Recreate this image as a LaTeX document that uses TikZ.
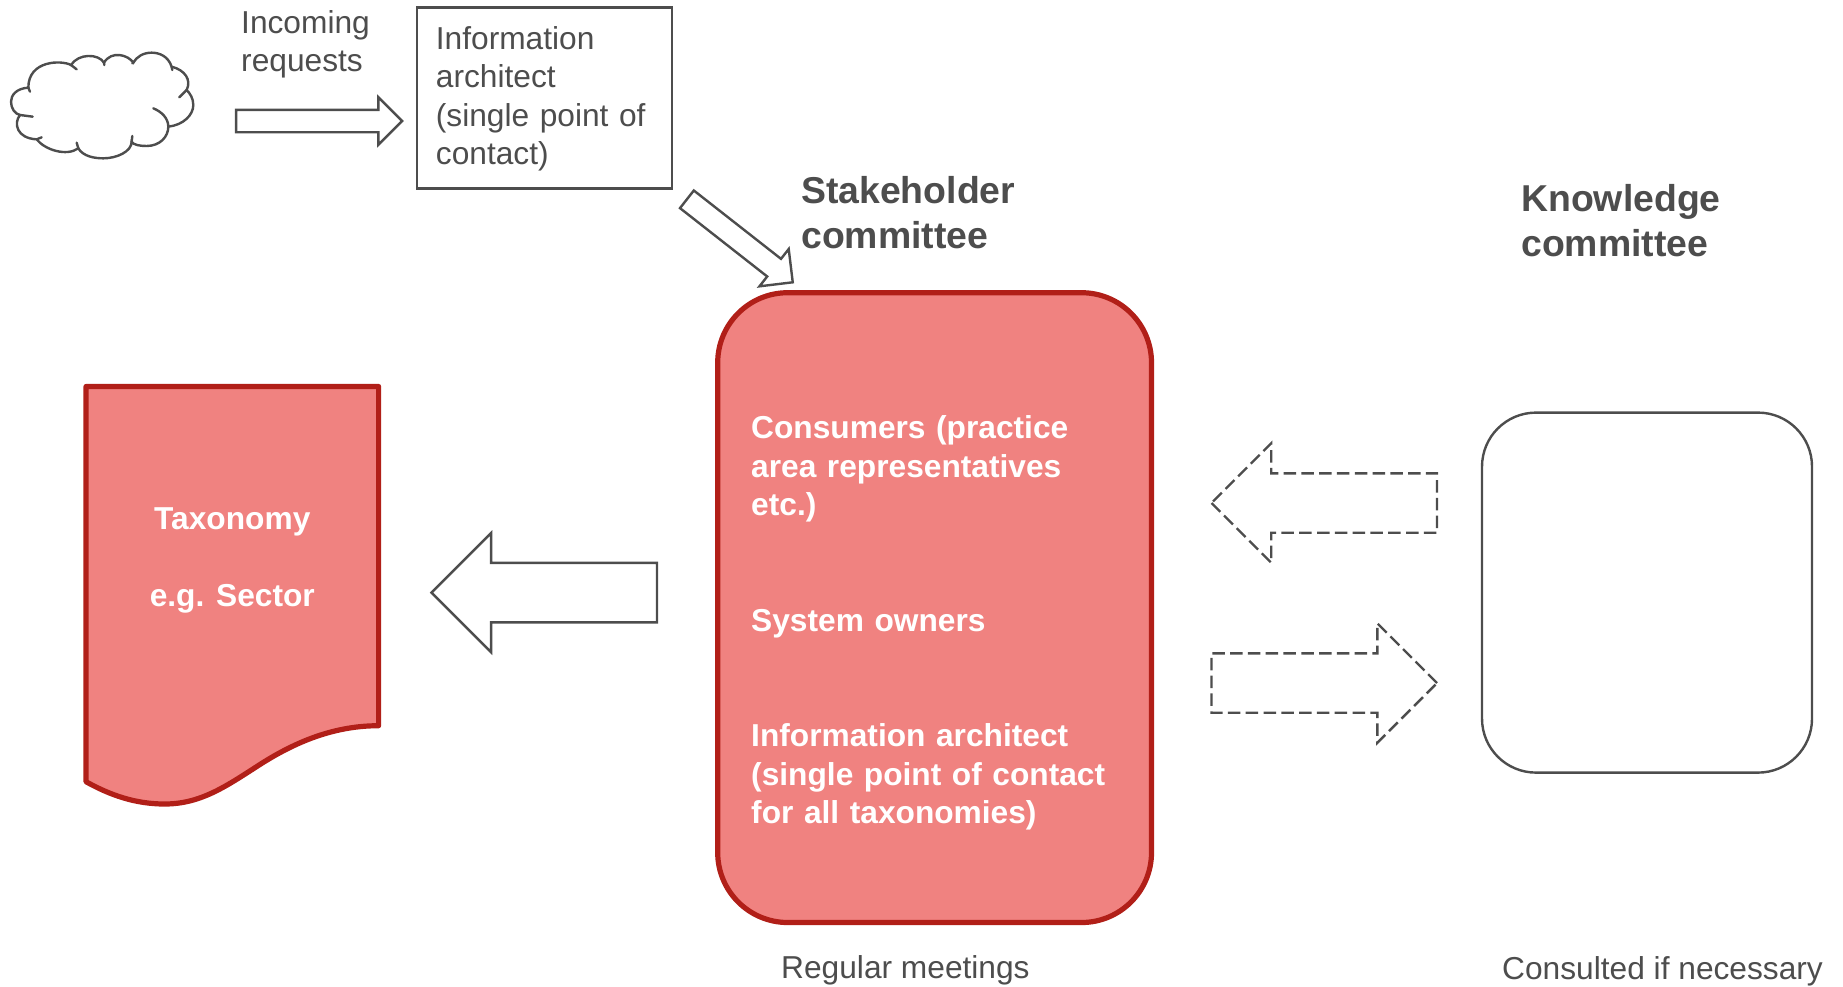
\documentclass[tikz,border=0pt]{standalone}
\usepackage{fontspec}
\setmainfont{Liberation Sans}
\usepackage{tikz}
\usetikzlibrary{positioning}
\usetikzlibrary{shapes.arrows}

\definecolor{inkgray}{HTML}{4D4D4D}
\definecolor{redfill}{HTML}{F08280}
\definecolor{redline}{HTML}{B11F18}

\begin{document}
\begin{tikzpicture}[
    x=1pt,
    y=-1pt,
    plaintext/.style={
        text=inkgray,
        inner sep=0pt,
        align=left,
        font=\fontsize{31.7}{38.5}\selectfont,
    },
    headtext/.style={
        text=inkgray,
        inner sep=0pt,
        align=left,
        font=\fontsize{37.4}{45}\selectfont\bfseries,
    },
    whitetext/.style={
        text=white,
        inner sep=0pt,
        font=\fontsize{31.7}{38.5}\selectfont\bfseries,
    },
    redshape/.style={
        draw=redline,
        fill=redfill,
        line width=5.2pt,
    },
    committee/.style={
        rounded corners=#1,
        outer sep=0pt,
    },
    blockarrow/.style={
        draw=inkgray,
        line width=2.4pt,
        single arrow,
        single arrow tip angle=90,
        inner xsep=0pt,
        outer sep=0pt,
    },
    smallarrow/.style={
        blockarrow,
        inner ysep=10pt,
        single arrow head extend=12.5pt,
    },
    bigarrow/.style={
        blockarrow,
        inner ysep=28.5pt,
        single arrow head extend=30pt,
        minimum height=225.5pt,
    },
    sketchline/.style={
        draw=inkgray,
        line width=2.4pt,
    },
    dashline/.style={
        dash pattern=on 12.5pt off 5.3pt,
    }
]

\useasboundingbox (0,0) rectangle (1843,986);

\begin{scope}[shift={(0,40)},x=0.3333pt,y=-0.3333pt]
\draw[sketchline, line cap=round] (85,143) .. controls (50,145) and (33,165) .. (33,185)
    .. controls (33,205) and (45,222) .. (60,225)
    .. controls (40,250) and (50,295) .. (110,298)
    .. controls (135,330) and (200,350) .. (235,325)
    .. controls (250,350) and (285,355) .. (310,355)
    .. controls (350,355) and (395,335) .. (395,305)
    .. controls (400,315) and (420,318) .. (440,318)
    .. controls (480,318) and (505,290) .. (505,260)
    .. controls (550,255) and (580,225) .. (580,195)
    .. controls (580,175) and (570,160) .. (560,150)
    .. controls (575,120) and (555,90) .. (515,80)
    .. controls (505,50) and (480,38) .. (455,38)
    .. controls (430,38) and (410,50) .. (400,68)
    .. controls (385,45) and (335,30) .. (312,68)
    .. controls (295,40) and (235,40) .. (213,75)
    .. controls (185,60) and (85,60) .. (85,143) -- cycle;
\draw[sketchline, line cap=round] (213,75) -- (230,88);
\draw[sketchline, line cap=round] (85,143) -- (90,155);
\draw[sketchline, line cap=round] (60,225) -- (98,230);
\draw[sketchline, line cap=round] (110,298) -- (125,292);
\draw[sketchline, line cap=round] (235,325) -- (230,308);
\draw[sketchline, line cap=round] (395,305) -- (397,288);
\draw[sketchline, line cap=round] (505,260) .. controls (505,235) and (485,215) .. (460,205);
\draw[sketchline, line cap=round] (560,150) -- (538,172);
\draw[sketchline, line cap=round] (515,80) -- (517,90);
\draw[sketchline, line cap=round] (400,68) -- (397,70);
\draw[sketchline, line cap=round] (312,68) -- (313,75);
\end{scope}

\node[plaintext, anchor=base west] (requests) at (241,71.9) {Incoming\\requests};

\node[plaintext, sketchline, outer sep=0pt, inner xsep=19pt, text width=217pt,
    minimum height=181pt] (infobox) at (544.4,97.8) {\rule{0pt}{25pt}Information\\architect\\(single point of\\contact)};

\node[smallarrow, minimum height=166pt, left=14.8pt of infobox, yshift=-23.2pt] (requestarrow) {};

\node[redshape, committee=70pt, minimum width=433.8pt, minimum height=629.8pt] (stakeholder) at (934.6,607.6) {};
\node[whitetext, text width=380pt, align=left, xshift=6.6pt, yshift=-15.6pt] (members) at (stakeholder) {Consumers (practice\\area representatives\\etc.)\\[77pt]System owners\\[77pt]Information architect\\(single point of contact\\for all taxonomies)};

\node[headtext, anchor=base west] (stakeholderlabel) at (801,248.3) {Stakeholder\\committee};
\node[plaintext, anchor=base west] (regular) at (781,978.3) {Regular meetings};

\node[smallarrow, minimum height=134.5pt, rotate=-38.1, anchor=tail] (forwardarrow)
    at ([shift={(15,11)}]infobox.south east) {};

\node[bigarrow, shape border rotate=180, left=60.7pt of stakeholder, yshift=15pt] (publisharrow) {};

\node[sketchline, committee=54pt, outer sep=0pt, minimum width=330pt, minimum height=360pt,
    right=330.5pt of stakeholder, yshift=15pt] (knowledge) {};
\node[headtext, anchor=base west] (knowledgelabel) at (1521,256) {Knowledge\\committee};
\node[plaintext, anchor=base west] (consulted) at (1502,979) {Consulted if necessary};

\node[bigarrow, dashline, shape border rotate=180, right=60pt of stakeholder, yshift=104.6pt] (askarrow) {};
\node[bigarrow, dashline, right=60pt of stakeholder, yshift=-75.4pt] (replyarrow) {};

\node[outer sep=0pt, inner sep=0pt, minimum width=292.6pt, minimum height=339.2pt] (taxonomy) at (232.3,556.1) {};
\draw[redshape, line join=round] (taxonomy.north west) -- (taxonomy.north east) -- (taxonomy.south east)
    .. controls (330,725.7) and (290,745) .. (257.6,766)
    .. controls (225,787) and (200,804) .. (164.7,804)
    .. controls (135,804) and (110,795) .. (taxonomy.south west |- 0,781.7) -- cycle;
\node[whitetext, align=center, yshift=-4.7pt] (taxonomytext) at (taxonomy) {Taxonomy\\[38.5pt]e.g. Sector};
\end{tikzpicture}
\end{document}
